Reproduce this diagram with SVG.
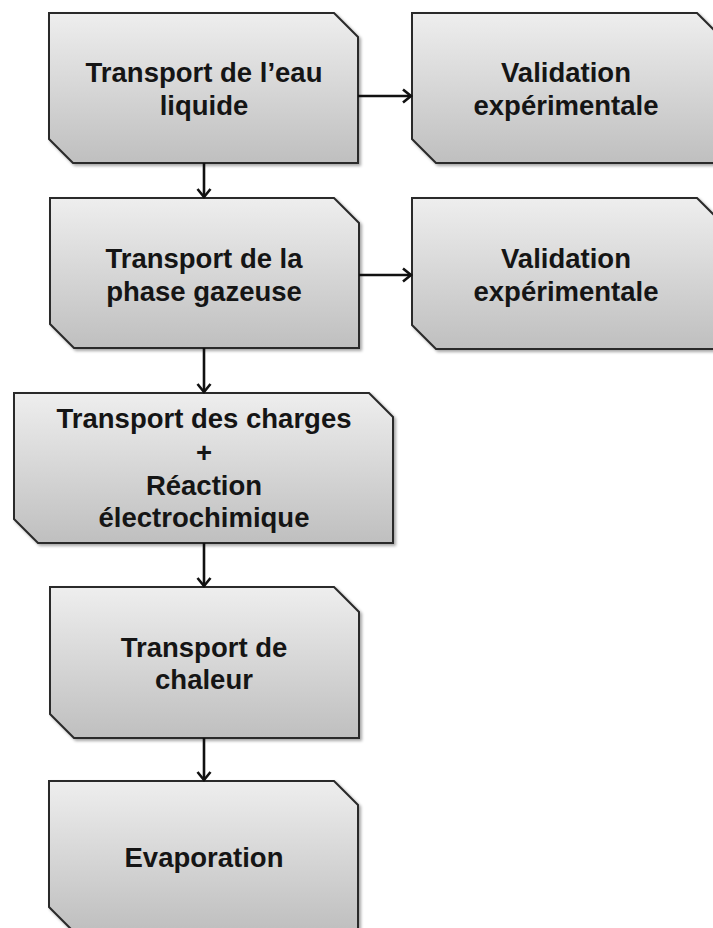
<svg xmlns="http://www.w3.org/2000/svg" width="713" height="928" viewBox="0 0 713 928">
<defs>
<linearGradient id="g" x1="0" y1="0" x2="0" y2="1">
<stop offset="0" stop-color="#eeeeee"/>
<stop offset="1" stop-color="#bfbfbf"/>
</linearGradient>
<filter id="sh" x="-5%" y="-5%" width="115%" height="115%">
<feDropShadow dx="2" dy="2" stdDeviation="1.5" flood-color="#000" flood-opacity="0.35"/>
</filter>
<marker id="ah" markerWidth="12" markerHeight="16" refX="9" refY="8" orient="auto" markerUnits="userSpaceOnUse">
<path d="M1,1.5 L9,8 L1,14.5" fill="none" stroke="#111" stroke-width="2.6" stroke-linejoin="miter"/>
</marker>
<style>
.box{fill:url(#g);stroke:#2a2a2a;stroke-width:2;filter:url(#sh)}
.t{font-family:"Liberation Sans",Arial,sans-serif;font-weight:bold;font-size:27.5px;fill:#151515;text-anchor:middle}
.c{fill:none;stroke:#111;stroke-width:2.6}
</style>
</defs>
<g id="n1">
<path class="box" d="M49,13 L334,13 L358,37 L358,163 L73,163 L49,139 Z"/>
<text class="t" x="204" y="82">Transport de l’eau</text>
<text class="t" x="204" y="115">liquide</text>
</g>
<g id="v1">
<path class="box" d="M412,13 L697,13 L721,37 L721,163 L436,163 L412,139 Z"/>
<text class="t" x="566" y="82">Validation</text>
<text class="t" x="566" y="115">expérimentale</text>
</g>
<g id="n2">
<path class="box" d="M50,198 L334,198 L359,223 L359,348 L74,348 L50,324 Z"/>
<text class="t" x="204" y="268">Transport de la</text>
<text class="t" x="204" y="301">phase gazeuse</text>
</g>
<g id="v2">
<path class="box" d="M412,198 L697,198 L721,222 L721,349 L436,349 L412,325 Z"/>
<text class="t" x="566" y="268">Validation</text>
<text class="t" x="566" y="301">expérimentale</text>
</g>
<g id="n3">
<path class="box" d="M14,393 L369,393 L393,417 L393,543 L38,543 L14,519 Z"/>
<text class="t" x="204" y="428">Transport des charges</text>
<text class="t" x="204" y="462">+</text>
<text class="t" x="204" y="495">Réaction</text>
<text class="t" x="204" y="527">électrochimique</text>
</g>
<g id="n4">
<path class="box" d="M50,587 L334,587 L359,612 L359,738 L74,738 L50,714 Z"/>
<text class="t" x="204" y="657">Transport de</text>
<text class="t" x="204" y="689">chaleur</text>
</g>
<g id="n5">
<path class="box" d="M49,781 L334,781 L358,805 L358,931 L73,931 L49,907 Z"/>
<text class="t" x="204" y="867">Evaporation</text>
</g>
<g id="connectors">
<line class="c" x1="204" y1="163" x2="204" y2="197" marker-end="url(#ah)"/>
<line class="c" x1="204" y1="348" x2="204" y2="392" marker-end="url(#ah)"/>
<line class="c" x1="204" y1="543" x2="204" y2="586" marker-end="url(#ah)"/>
<line class="c" x1="204" y1="738" x2="204" y2="780" marker-end="url(#ah)"/>
<line class="c" x1="358" y1="96" x2="411" y2="96" marker-end="url(#ah)"/>
<line class="c" x1="359" y1="275" x2="411" y2="275" marker-end="url(#ah)"/>
</g>
</svg>
